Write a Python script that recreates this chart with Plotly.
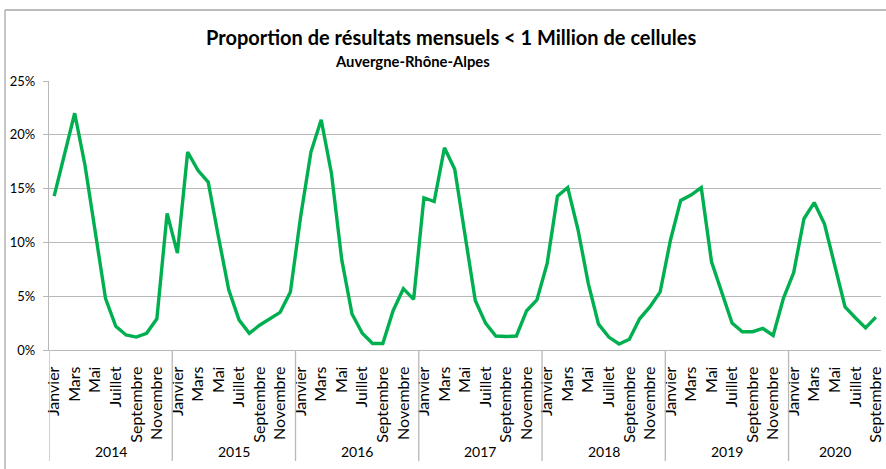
import plotly.graph_objects as go

years = ["2014", "2015", "2016", "2017", "2018", "2019", "2020"]
months = ["Janvier", "Février", "Mars", "Avril", "Mai", "Juin", "Juillet",
          "Août", "Septembre", "Octobre", "Novembre", "Décembre"]
months_per_year = [12, 12, 12, 12, 12, 12, 9]

values_2014 = [14.3, 18.3, 22.0, 17.2, 11.0, 4.8, 2.2, 1.4, 1.2, 1.55, 2.9, 12.7]
values_2015 = [9.0, 18.4, 16.7, 15.6, 10.5, 5.6, 2.8, 1.55, 2.3, 2.9, 3.5, 5.4]
values_2016 = [12.4, 18.4, 21.4, 16.4, 8.4, 3.35, 1.55, 0.6, 0.6, 3.65, 5.7, 4.7]
values_2017 = [14.15, 13.8, 18.8, 16.8, 10.8, 4.6, 2.5, 1.3, 1.25, 1.3, 3.65, 4.65]
values_2018 = [8.05, 14.3, 15.1, 11.2, 6.2, 2.4, 1.2, 0.56, 1.0, 2.9, 4.0, 5.4]
values_2019 = [10.2, 13.9, 14.4, 15.1, 8.2, 5.4, 2.5, 1.7, 1.7, 2.0, 1.35, 4.8]
values_2020 = [7.2, 12.2, 13.7, 11.7, 7.75, 4.0, 3.0, 2.05, 3.05]

all_values = (values_2014 + values_2015 + values_2016 + values_2017 +
              values_2018 + values_2019 + values_2020)
y = [v / 100 for v in all_values]
x = list(range(len(y)))

month_labels = []
for n in months_per_year:
    month_labels += months[:n]

tickvals = [i for i in x if i % 2 == 0]
ticktext = [month_labels[i] for i in tickvals]

FONT = "Lato"
GRID = "#b8b8b8"

fig = go.Figure()
fig.add_trace(go.Scatter(
    x=x, y=y, mode="lines",
    line=dict(color="#00b050", width=3.4),
    hoverinfo="y",
))

# plot-area geometry (pixels) used to convert to paper coords
W, H = 886, 469
L, R, T, B = 49, 5, 81, 119
pw, ph = W - L - R, H - T - B

def px_x(px):
    return (px - L) / pw

def px_y(py):
    return (H - B - py) / ph

shapes = []
annotations = []
start = 0
for yr, n in zip(years, months_per_year):
    shapes.append(dict(type="line", xref="x", yref="paper",
                       x0=start - 0.5, x1=start - 0.5, y0=0, y1=px_y(461),
                       line=dict(color=GRID, width=1.3)))
    annotations.append(dict(text=yr, xref="x", yref="paper",
                            x=start + (n - 1) / 2, y=px_y(451),
                            showarrow=False, yanchor="middle",
                            font=dict(family=FONT, size=14, color="#000")))
    start += n

# chart outer border (top and left)
shapes.append(dict(type="line", xref="paper", yref="paper",
                   x0=px_x(5), x1=px_x(886), y0=px_y(10), y1=px_y(10),
                   line=dict(color="#a6a6a6", width=1.3)))
shapes.append(dict(type="line", xref="paper", yref="paper",
                   x0=px_x(5), x1=px_x(5), y0=px_y(10), y1=px_y(469),
                   line=dict(color="#a6a6a6", width=1.3)))

annotations.append(dict(text="<b>Proportion de résultats mensuels < 1 Million de cellules</b>",
                        xref="paper", yref="paper", x=px_x(451), y=px_y(37),
                        showarrow=False, xanchor="center", yanchor="middle",
                        font=dict(family=FONT, size=20, color="#000")))
annotations.append(dict(text="<b>Auvergne-Rhône-Alpes</b>",
                        xref="paper", yref="paper", x=px_x(412), y=px_y(61),
                        showarrow=False, xanchor="center", yanchor="middle",
                        font=dict(family=FONT, size=14.8, color="#000")))

fig.update_layout(
    width=W, height=H,
    margin=dict(l=L, r=R, t=T, b=B, pad=0, autoexpand=False),
    paper_bgcolor="white", plot_bgcolor="white",
    showlegend=False,
    shapes=shapes,
    annotations=annotations,
    font=dict(family=FONT, size=13.5, color="#000"),
)
fig.update_xaxes(
    range=[-0.5, len(y) - 0.5], automargin=False,
    tickmode="array", tickvals=tickvals, ticktext=ticktext,
    tickangle=-90, ticks="", showgrid=False, zeroline=False,
    showline=True, linecolor=GRID, linewidth=1.3,
    tickfont=dict(family=FONT, size=16, color="#000"),
    ticklabelstandoff=9,
)
fig.update_yaxes(
    range=[0, 0.25], tickvals=[0, 0.05, 0.10, 0.15, 0.20, 0.25],
    automargin=False,
    tickformat=".0%", showgrid=True, gridcolor=GRID, gridwidth=1.3,
    zeroline=False, showline=True, linecolor=GRID, linewidth=1.3,
    ticks="outside", ticklen=5, tickcolor=GRID, tickwidth=1.3,
    tickfont=dict(family=FONT, size=13, color="#000"),
    ticklabelstandoff=5,
)

fig.write_html("out.html",
               config={"displayModeBar": False},
               post_script="document.body.style.margin='0';document.body.style.padding='0';")
